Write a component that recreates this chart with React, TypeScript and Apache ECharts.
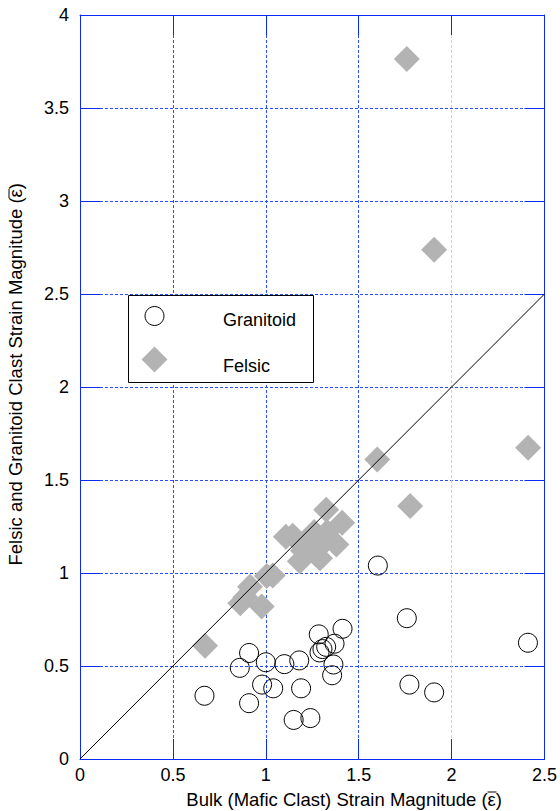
import React, { useEffect, useRef } from "react";
import * as echarts from "echarts";

// ---- data ----
const xTicks = [0, 0.5, 1, 1.5, 2, 2.5];
const yTicks = [0, 0.5, 1, 1.5, 2, 2.5, 3, 3.5, 4];

const granitoid: [number, number][] = [
  [0.67, 0.34], [0.91, 0.30], [0.86, 0.49], [0.91, 0.57], [0.98, 0.40],
  [1.0, 0.52], [1.04, 0.38], [1.10, 0.51], [1.18, 0.53], [1.19, 0.38],
  [1.15, 0.21], [1.24, 0.22], [1.285, 0.67], [1.413, 0.70], [1.37, 0.62],
  [1.289, 0.573], [1.305, 0.591], [1.325, 0.603], [1.364, 0.508], [1.357, 0.45],
  [1.603, 1.04], [1.759, 0.757], [1.773, 0.40], [1.906, 0.358], [2.411, 0.625],
];

const felsic: [number, number][] = [
  [0.673, 0.609],
  [0.863, 0.838], [0.89, 0.87], [0.915, 0.926], [0.978, 0.82], [1.005, 0.984], [1.037, 0.987],
  [1.108, 1.195], [1.145, 1.20], [1.183, 1.063], [1.20, 1.12], [1.24, 1.16], [1.26, 1.22],
  [1.27, 1.10], [1.292, 1.079], [1.30, 1.15], [1.325, 1.34], [1.33, 1.22], [1.38, 1.153],
  [1.411, 1.27],
  [1.60, 1.61], [1.777, 1.36], [2.412, 1.673], [1.906, 2.738], [1.759, 3.764],
];

const oneToOne: [number, number][] = [[0, 0], [2.5, 2.5]];

const legendNames = ["Granitoid", "Felsic"];
const xTitle = "Bulk (Mafic Clast) Strain Magnitude (\u03B5)";
const yTitle = "Felsic and Granitoid Clast Strain Magnitude (\u03B5)";

export default function App() {
  const ref = useRef<HTMLDivElement>(null);
  useEffect(() => {
    if (!ref.current) return;
    const chart = echarts.init(ref.current, null, { renderer: "svg" });
    const font = "Liberation Sans, Arial, sans-serif";
    const axisBlue = "#0a2af5";
    const gridBlue = "#2a4dff";
    const dash = [3, 2];
    const axisCommon = {
      type: "value" as const,
      axisLine: { show: true, onZero: false, lineStyle: { color: axisBlue, width: 1 } },
      axisTick: { show: true, inside: true, length: 20, lineStyle: { color: axisBlue, width: 1 } },
    };
    chart.setOption({
      animation: false,
      backgroundColor: "#ffffff",
      textStyle: { fontFamily: font },
      grid: { left: 80, top: 15, width: 466, height: 744, containLabel: false },
      xAxis: [
        {
          ...axisCommon,
          position: "bottom",
          min: xTicks[0],
          max: xTicks[xTicks.length - 1],
          interval: xTicks[1] - xTicks[0],
          axisLabel: { color: "#000", fontSize: 18, fontFamily: font, margin: 7 },
          splitLine: {
            show: true,
            showMinLine: true,
            showMaxLine: true,
            lineStyle: {
              color: [gridBlue, gridBlue, gridBlue, gridBlue, "#c4cdf6", gridBlue],
              type: dash,
              width: 1,
            },
          },
        },
        {
          ...axisCommon,
          position: "top",
          min: xTicks[0],
          max: xTicks[xTicks.length - 1],
          interval: xTicks[1] - xTicks[0],
          axisLabel: { show: false },
          splitLine: { show: false },
        },
      ],
      yAxis: [
        {
          ...axisCommon,
          position: "left",
          min: yTicks[0],
          max: yTicks[yTicks.length - 1],
          interval: yTicks[1] - yTicks[0],
          axisLabel: { color: "#000", fontSize: 18, fontFamily: font, margin: 11 },
          splitLine: { show: true, lineStyle: { color: gridBlue, type: dash, width: 1 } },
        },
        {
          ...axisCommon,
          position: "right",
          min: yTicks[0],
          max: yTicks[yTicks.length - 1],
          interval: yTicks[1] - yTicks[0],
          axisLabel: { show: false },
          splitLine: { show: false },
        },
      ],
      series: [
        {
          name: legendNames[1],
          type: "scatter",
          data: felsic,
          symbol: "diamond",
          symbolSize: 26,
          itemStyle: { color: "#b3b3b3", opacity: 1 },
          z: 2,
        },
        {
          name: legendNames[0],
          type: "scatter",
          data: granitoid,
          symbol: "circle",
          symbolSize: 19,
          itemStyle: { color: "rgba(0,0,0,0)", borderColor: "#000", borderWidth: 1, opacity: 1 },
          z: 3,
        },
        {
          type: "line",
          data: oneToOne,
          symbol: "none",
          lineStyle: { color: "#000", width: 1 },
          z: 4,
        },
      ],
      graphic: [
        {
          type: "rect",
          shape: { x: 128.5, y: 295.5, width: 185, height: 87 },
          style: { fill: "#fff", stroke: "#000", lineWidth: 1 },
          z: 100,
        },
        {
          type: "circle",
          shape: { cx: 154.5, cy: 316, r: 9.5 },
          style: { fill: "none", stroke: "#000", lineWidth: 1 },
          z: 101,
        },
        {
          type: "polygon",
          shape: { points: [[154.5, 346.5], [167.5, 359.5], [154.5, 372.5], [141.5, 359.5]] },
          style: { fill: "#b3b3b3" },
          z: 101,
        },
        {
          type: "text",
          x: 223,
          y: 320,
          style: { text: legendNames[0], fill: "#000", font: `18px ${font}`, textAlign: "left", textVerticalAlign: "middle" },
          z: 101,
        },
        {
          type: "text",
          x: 223,
          y: 365.5,
          style: { text: legendNames[1], fill: "#000", font: `18px ${font}`, textAlign: "left", textVerticalAlign: "middle" },
          z: 101,
        },
        {
          type: "text",
          x: 502,
          y: 799,
          style: {
            text: xTitle,
            fill: "#000",
            font: `18.5px ${font}`,
            textAlign: "right",
            textVerticalAlign: "middle",
          },
          z: 101,
        },
        {
          type: "line",
          shape: { x1: 487.5, y1: 792, x2: 496.5, y2: 792 },
          style: { stroke: "#000", lineWidth: 1 },
          z: 101,
        },
        {
          type: "text",
          x: 15,
          y: 183,
          rotation: Math.PI / 2,
          style: {
            text: yTitle,
            fill: "#000",
            font: `18.5px ${font}`,
            textAlign: "right",
            textVerticalAlign: "middle",
          },
          z: 101,
        },
        {
          type: "line",
          shape: { x1: 9, y1: 189, x2: 9, y2: 198 },
          style: { stroke: "#000", lineWidth: 1 },
          z: 101,
        },
      ],
    });
    return () => chart.dispose();
  }, []);
  return (
    <div
      ref={ref}
      style={{ position: "absolute", left: 0, top: 0, width: 560, height: 811, background: "#fff" }}
    />
  );
}
